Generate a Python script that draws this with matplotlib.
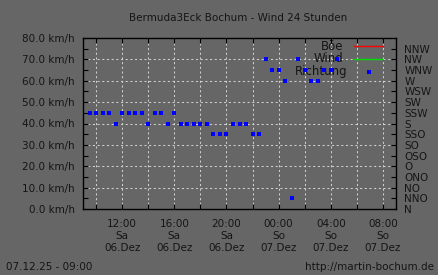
import datetime as dt
import matplotlib
matplotlib.use('Agg')
import matplotlib.pyplot as plt
import matplotlib.dates as mdates
from matplotlib.ticker import MultipleLocator, FixedLocator, FuncFormatter

# --- data ---
start = dt.datetime(2025, 12, 6, 9, 0)
end = dt.datetime(2025, 12, 7, 9, 0)

# hours after start, wind direction in degrees
stunden = [0.5, 1.0, 1.5, 2.0, 2.5, 3.0, 3.5, 4.0, 4.5, 5.0, 5.5, 6.0, 6.5, 7.0,
           7.5, 8.0, 8.5, 9.0, 9.5, 10.0, 10.5, 11.0, 11.5, 12.0, 12.5, 13.0,
           13.5, 14.0, 14.5, 15.0, 15.5, 16.0, 16.5, 17.0, 17.5, 18.0, 18.5,
           19.0, 19.5, 21.9]
richtung = [202.5, 202.5, 202.5, 202.5, 180, 202.5, 202.5, 202.5, 202.5, 180,
            202.5, 202.5, 180, 202.5, 180, 180, 180, 180, 180, 157.5, 157.5,
            157.5, 180, 180, 180, 157.5, 157.5, 315, 292.5, 292.5, 270, 22.5,
            315, 292.5, 270, 270, 292.5, 292.5, 315, 288]

richtung_labels = ['N', 'NNO', 'NO', 'ONO', 'O', 'OSO', 'SO', 'SSO',
                   'S', 'SSW', 'SW', 'WSW', 'W', 'WNW', 'NW', 'NNW']
wochentage = ['Mo', 'Di', 'Mi', 'Do', 'Fr', 'Sa', 'So']
monate = ['Jan', 'Feb', 'Mär', 'Apr', 'Mai', 'Jun', 'Jul', 'Aug', 'Sep',
          'Okt', 'Nov', 'Dez']

zeiten = [start + dt.timedelta(hours=h) for h in stunden]

bg = '#666666'
fg = '#151515'
fs = 7.5
plt.rcParams['font.family'] = 'DejaVu Sans'
plt.rcParams['text.color'] = fg

W, H = 438, 275
fig = plt.figure(figsize=(W / 100, H / 100), dpi=100, facecolor=bg)
ax = fig.add_axes([83 / W, (H - 209) / H, 313 / W, 171 / H])
ax.set_facecolor(bg)
ax.set_xlim(start, end)
ax.set_ylim(0, 80)

# left axis: km/h
ax.yaxis.set_major_locator(MultipleLocator(10))
ax.yaxis.set_minor_locator(MultipleLocator(5))
ax.yaxis.set_major_formatter(FuncFormatter(lambda v, p: f'{v:.1f} km/h'))

# x axis
ax.xaxis.set_major_locator(mdates.HourLocator(byhour=[0, 4, 8, 12, 16, 20]))
ax.xaxis.set_minor_locator(mdates.HourLocator(byhour=range(0, 24, 2)))


def fmt_zeit(x, pos):
    d = mdates.num2date(x)
    return f'{d:%H:%M}\n{wochentage[d.weekday()]}\n{d.day:02d}.{monate[d.month - 1]}'


ax.xaxis.set_major_formatter(FuncFormatter(fmt_zeit))

ax.tick_params(axis='both', which='both', direction='in', colors='black',
               labelcolor=fg, labelsize=fs, width=0.8)
ax.tick_params(axis='x', which='both', top=True, length=3.5, pad=7)
ax.tick_params(axis='y', which='both', right=False, length=3.5, pad=6)
for lab in ax.get_xticklabels():
    lab.set_linespacing(1.25)

ax.grid(axis='x', which='both', color='#cfcfcf', linestyle=(0, (2, 2.5)), linewidth=0.75)
ax.grid(axis='y', which='major', color='#cfcfcf', linestyle=(0, (2, 2.5)), linewidth=0.75)
for s in ax.spines.values():
    s.set_color('black')
    s.set_linewidth(1.0)

# right axis: direction
ax2 = ax.twinx()
ax2.set_ylim(0, 360)
ax2.yaxis.set_major_locator(FixedLocator([i * 22.5 for i in range(16)]))
ax2.set_yticklabels(richtung_labels)
ax2.tick_params(axis='y', direction='in', length=3.5, width=0.8, colors='black',
                labelcolor=fg, labelsize=fs, pad=6)
for s in ax2.spines.values():
    s.set_visible(False)

ax2.plot(zeiten, richtung, linestyle='none', marker='s', markersize=2.4,
         color='#0000ff', markeredgewidth=0)

# legend drawn by hand (Richtung has no symbol)
def ax_x(px):
    return (px - 83) / 313


def ax_y(py):
    return (209 - py) / 171


leg = [('Böe', '#ff0000', 46), ('Wind', '#00dd00', 59)]
for name, col, py in leg:
    ax.text(ax_x(343), ax_y(py), name, transform=ax.transAxes, ha='right',
            va='center', fontsize=8.5, color=fg)
    ax.plot([ax_x(354), ax_x(383)], [ax_y(py), ax_y(py)], color=col,
            linewidth=1.0, transform=ax.transAxes)
ax.text(ax_x(347), ax_y(72), 'Richtung', transform=ax.transAxes, ha='right',
        va='center', fontsize=8.5, color=fg)

fig.text(238 / W, 1 - 18 / H, 'Bermuda3Eck Bochum - Wind 24 Stunden',
         ha='center', va='center', fontsize=fs)
fig.text(6 / W, 1 - 267 / H, '07.12.25 - 09:00', ha='left', va='center', fontsize=fs)
fig.text(434 / W, 1 - 267 / H, 'http://martin-bochum.de', ha='right',
         va='center', fontsize=fs)

fig.savefig('out.png', dpi=100, facecolor=bg)
